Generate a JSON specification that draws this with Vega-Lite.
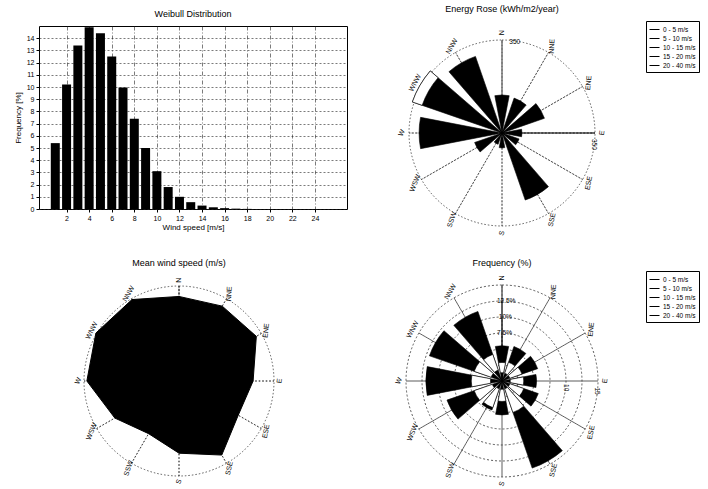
{
"$schema":"https://vega.github.io/schema/vega-lite/v6.json",
"bounds":"flush",
"padding":{"left":13,"top":4,"right":0,"bottom":0},
"config":{
 "font":"Liberation Sans",
 "view":{"stroke":null},
 "title":{"fontSize":9,"fontWeight":"normal","frame":"group","offset":7,"color":"black"},
 "axis":{"labelColor":"black","titleColor":"black","tickColor":"black","domainColor":"black","labelFontSize":7,"titleFontSize":8,"titleFontWeight":"normal"},
 "text":{"color":"black"}
},
"datasets":{
 "hist":[{"speed":1,"freq":5.4},{"speed":2,"freq":10.2},{"speed":3,"freq":13.4},{"speed":4,"freq":14.9},{"speed":5,"freq":14.4},{"speed":6,"freq":12.5},{"speed":7,"freq":9.95},{"speed":8,"freq":7.4},{"speed":9,"freq":5.0},{"speed":10,"freq":3.1},{"speed":11,"freq":1.8},{"speed":12,"freq":1.0},{"speed":13,"freq":0.56},{"speed":14,"freq":0.28},{"speed":15,"freq":0.14},{"speed":16,"freq":0.07},{"speed":17,"freq":0.03},{"speed":18,"freq":0.01}],
 "dirs":[{"dir":"N","angle":0},{"dir":"NNE","angle":30},{"dir":"ENE","angle":60},{"dir":"E","angle":90},{"dir":"ESE","angle":120},{"dir":"SSE","angle":150},{"dir":"S","angle":180},{"dir":"SSW","angle":210},{"dir":"WSW","angle":240},{"dir":"W","angle":270},{"dir":"WNW","angle":300},{"dir":"NNW","angle":330}],
 "energy":[
  {"dir":"N","angle":0,"cls":"5 - 10 m/s","r0":0,"r1":143},
  {"dir":"NNE","angle":30,"cls":"5 - 10 m/s","r0":0,"r1":139},
  {"dir":"ENE","angle":60,"cls":"5 - 10 m/s","r0":0,"r1":169},
  {"dir":"E","angle":90,"cls":"5 - 10 m/s","r0":0,"r1":75},
  {"dir":"ESE","angle":120,"cls":"5 - 10 m/s","r0":0,"r1":68},
  {"dir":"SSE","angle":150,"cls":"5 - 10 m/s","r0":0,"r1":267},
  {"dir":"S","angle":180,"cls":"5 - 10 m/s","r0":0,"r1":56},
  {"dir":"SSW","angle":210,"cls":"5 - 10 m/s","r0":0,"r1":45},
  {"dir":"WSW","angle":240,"cls":"5 - 10 m/s","r0":0,"r1":109},
  {"dir":"W","angle":270,"cls":"5 - 10 m/s","r0":0,"r1":312},
  {"dir":"WNW","angle":300,"cls":"5 - 10 m/s","r0":0,"r1":357},
  {"dir":"NNW","angle":330,"cls":"5 - 10 m/s","r0":0,"r1":305},
  {"dir":"WNW","angle":300,"cls":"15 - 20 m/s","r0":318,"r1":357}
 ],
 "mean":[{"dir":"N","angle":0,"speed":8.9},{"dir":"NNE","angle":30,"speed":9.1},{"dir":"ENE","angle":60,"speed":9.4},{"dir":"E","angle":90,"speed":7.8},{"dir":"ESE","angle":120,"speed":7.2},{"dir":"SSE","angle":150,"speed":9.0},{"dir":"S","angle":180,"speed":7.6},{"dir":"SSW","angle":210,"speed":6.4},{"dir":"WSW","angle":240,"speed":7.8},{"dir":"W","angle":270,"speed":9.7},{"dir":"WNW","angle":300,"speed":10.1},{"dir":"NNW","angle":330,"speed":9.9}],
 "freq":[
  {"dir":"N","angle":0,"cls":"10 - 15 m/s","r0":0,"r1":5.5},
  {"dir":"NNE","angle":30,"cls":"10 - 15 m/s","r0":0,"r1":5.7},
  {"dir":"ENE","angle":60,"cls":"10 - 15 m/s","r0":0,"r1":5.9},
  {"dir":"E","angle":90,"cls":"10 - 15 m/s","r0":0,"r1":5.4},
  {"dir":"ESE","angle":120,"cls":"10 - 15 m/s","r0":0,"r1":6.0},
  {"dir":"SSE","angle":150,"cls":"10 - 15 m/s","r0":0,"r1":14.4},
  {"dir":"S","angle":180,"cls":"10 - 15 m/s","r0":0,"r1":5.3},
  {"dir":"SSW","angle":210,"cls":"10 - 15 m/s","r0":0,"r1":4.8},
  {"dir":"WSW","angle":240,"cls":"10 - 15 m/s","r0":0,"r1":9.1},
  {"dir":"W","angle":270,"cls":"10 - 15 m/s","r0":0,"r1":11.9},
  {"dir":"WNW","angle":300,"cls":"10 - 15 m/s","r0":0,"r1":12.0},
  {"dir":"NNW","angle":330,"cls":"10 - 15 m/s","r0":0,"r1":11.5},
  {"dir":"N","angle":0,"cls":"0 - 5 m/s","r0":1.3,"r1":2.9},
  {"dir":"NNE","angle":30,"cls":"0 - 5 m/s","r0":1.3,"r1":3.1},
  {"dir":"ENE","angle":60,"cls":"0 - 5 m/s","r0":1.3,"r1":3.3},
  {"dir":"E","angle":90,"cls":"0 - 5 m/s","r0":1.3,"r1":3.4},
  {"dir":"ESE","angle":120,"cls":"0 - 5 m/s","r0":1.3,"r1":3.6},
  {"dir":"SSE","angle":150,"cls":"0 - 5 m/s","r0":1.3,"r1":5.2},
  {"dir":"S","angle":180,"cls":"0 - 5 m/s","r0":1.3,"r1":3.2},
  {"dir":"SSW","angle":210,"cls":"0 - 5 m/s","r0":1.3,"r1":4.4},
  {"dir":"WSW","angle":240,"cls":"0 - 5 m/s","r0":1.6,"r1":4.6},
  {"dir":"W","angle":270,"cls":"0 - 5 m/s","r0":1.8,"r1":4.8},
  {"dir":"WNW","angle":300,"cls":"0 - 5 m/s","r0":1.8,"r1":4.6},
  {"dir":"NNW","angle":330,"cls":"0 - 5 m/s","r0":1.8,"r1":4.4}
 ],
 "freqRings":[{"ring":2.5},{"ring":5},{"ring":7.5},{"ring":10},{"ring":12.5},{"ring":15}],
 "freqRingLabels":[{"ring":7.5,"label":"7.5%"},{"ring":10,"label":"10%"},{"ring":12.5,"label":"12.5%"}],
 "freqRingLabelsE":[{"ring":10,"label":"10"},{"ring":15,"label":"15"}]
},
"columns":2,
"spacing":{"row":30,"column":60},
"resolve":{"scale":{"theta":"independent","radius":"independent","x":"independent","y":"independent","fill":"independent","strokeDash":"independent","angle":"independent"}},
"concat":[
  {
   "width":308,"height":183,
   "title":{"text":"Weibull Distribution"},
   "view":{"stroke":"black","strokeWidth":1},
   "data":{"name":"hist"},
   "mark":{"type":"bar","color":"black","width":9},
   "encoding":{
    "x":{"field":"speed","type":"quantitative","scale":{"domain":[0,26.4],"nice":false,"zero":false},
     "axis":{"values":[2,4,6,8,10,12,14,16,18,20,22,24],"title":"Wind speed [m/s]","grid":true,"gridColor":"#222","gridDash":[4,2,1,2],"gridWidth":0.6,"domain":false,"tickSize":3,"labelPadding":2,"titlePadding":2}},
    "y":{"field":"freq","type":"quantitative","scale":{"domain":[0,15],"nice":false},
     "axis":{"values":[0,1,2,3,4,5,6,7,8,9,10,11,12,13,14],"title":"Frequency [%]","grid":true,"gridColor":"#222","gridDash":[2,2],"gridWidth":0.6,"domain":false,"tickSize":3,"labelPadding":2,"titlePadding":4}}
   }
  },
  {
   "width":190,"height":214,
   "title":{"text":"Energy Rose (kWh/m2/year)"},
   "view":{"stroke":null},
   "layer":[
    {"data":{"values":[{"ring":350}]},
     "mark":{"type":"arc","filled":false,"color":"#333","strokeDash":[1.5,2],"strokeWidth":0.8},
     "encoding":{"theta":{"datum":0,"type":"quantitative","scale":{"domain":[0,360],"range":[0,6.283185]}},"theta2":{"datum":360},
      "radius":{"field":"ring","type":"quantitative","stack":null,"scale":{"type":"linear","domain":[0,350],"range":[0,93],"nice":false}}}},
    {"data":{"name":"dirs"},
     "mark":{"type":"arc","filled":false,"color":"#333","strokeDash":[1.5,2],"strokeWidth":0.8},
     "encoding":{"theta":{"field":"angle","type":"quantitative","stack":null,"scale":{"domain":[0,360],"range":[0,6.283185]}},"theta2":{"field":"angle"},
      "radius":{"datum":350,"type":"quantitative","scale":{"type":"linear","domain":[0,350],"range":[0,93],"nice":false}}}},
    {"data":{"name":"energy"},
     "mark":{"type":"arc","thetaOffset":-0.19,"theta2Offset":0.19,"stroke":"black","strokeWidth":0.6},
     "encoding":{"theta":{"field":"angle","type":"quantitative","stack":null,"scale":{"domain":[0,360],"range":[0,6.283185]}},"theta2":{"field":"angle"},
      "radius":{"field":"r1","type":"quantitative","stack":null,"scale":{"type":"linear","domain":[0,350],"range":[0,93],"nice":false}},
      "radius2":{"field":"r0"},
      "fill":{"field":"cls","type":"nominal","scale":{"domain":["0 - 5 m/s","5 - 10 m/s","10 - 15 m/s","15 - 20 m/s","20 - 40 m/s"],"range":["white","black","black","white","black"]},
       "legend":{"orient":"none","legendX":239,"legendY":-5,"title":null,"strokeColor":"black","fillColor":"white","padding":3,"symbolType":"stroke","symbolSize":100,"symbolStrokeColor":"black","symbolStrokeWidth":1,"labelFontSize":6.5,"labelColor":"black","rowPadding":0,"labelOffset":3}},
      "strokeDash":{"field":"cls","type":"nominal","scale":{"domain":["0 - 5 m/s","5 - 10 m/s","10 - 15 m/s","15 - 20 m/s","20 - 40 m/s"],"range":[[1,3],[1,0],[3,2],[1,2],[1,0]]},
       "legend":{"orient":"none","legendX":239,"legendY":-5,"title":null,"strokeColor":"black","fillColor":"white","padding":3,"symbolType":"stroke","symbolSize":100,"symbolStrokeColor":"black","symbolStrokeWidth":1,"labelFontSize":6.5,"labelColor":"black","rowPadding":0,"labelOffset":3}}}},
    {"data":{"values":[{"ring":350}]},
     "mark":{"type":"arc","filled":false,"color":"black","strokeWidth":1.2},
     "encoding":{"theta":{"datum":90,"type":"quantitative","scale":{"domain":[0,360],"range":[0,6.283185]}},"theta2":{"datum":90},
      "radius":{"field":"ring","type":"quantitative","stack":null,"scale":{"type":"linear","domain":[0,350],"range":[0,93],"nice":false}}}},
    {"data":{"name":"dirs"},
     "mark":{"type":"text","fontSize":7,"align":"center","baseline":"middle","color":"black"},
     "encoding":{"theta":{"field":"angle","type":"quantitative","stack":null,"scale":{"domain":[0,360],"range":[0,6.283185]}},
      "radius":{"datum":377,"type":"quantitative","scale":{"type":"linear","domain":[0,350],"range":[0,93],"nice":false}},
      "angle":{"field":"dir","type":"nominal","scale":{"domain":["N","NNE","ENE","E","ESE","SSE","S","SSW","WSW","W","WNW","NNW"],"range":[270,300,330,0,30,60,90,300,330,0,30,60]},"legend":null},
      "text":{"field":"dir"}}},
    {"data":{"values":[{"label":"350"}]},
     "mark":{"type":"text","fontSize":6.5,"align":"center","baseline":"middle","color":"black"},
     "encoding":{"theta":{"datum":8,"type":"quantitative","scale":{"domain":[0,360],"range":[0,6.283185]}},
      "radius":{"datum":345,"type":"quantitative","scale":{"type":"linear","domain":[0,350],"range":[0,93],"nice":false}},
      "text":{"field":"label"}}},
    {"data":{"values":[{"label":"350"}]},
     "mark":{"type":"text","fontSize":6.5,"align":"center","baseline":"middle","angle":90,"color":"black"},
     "encoding":{"theta":{"datum":97,"type":"quantitative","scale":{"domain":[0,360],"range":[0,6.283185]}},
      "radius":{"datum":350,"type":"quantitative","scale":{"type":"linear","domain":[0,350],"range":[0,93],"nice":false}},
      "text":{"field":"label"}}}
   ]
  },
  {
   "width":280,"height":222,
   "title":{"text":"Mean wind speed (m/s)","offset":2},
   "view":{"stroke":null},
   "layer":[
    {"data":{"values":[{"ring":10}]},
     "mark":{"type":"arc","filled":false,"color":"#333","strokeDash":[1.5,2],"strokeWidth":0.8},
     "encoding":{"theta":{"datum":0,"type":"quantitative","scale":{"domain":[0,360],"range":[0,6.283185]}},"theta2":{"datum":360},
      "radius":{"field":"ring","type":"quantitative","stack":null,"scale":{"type":"linear","domain":[0,10],"range":[0,95],"nice":false}}}},
    {"data":{"name":"dirs"},
     "mark":{"type":"arc","filled":false,"color":"#333","strokeDash":[1.5,2],"strokeWidth":0.8},
     "encoding":{"theta":{"field":"angle","type":"quantitative","stack":null,"scale":{"domain":[0,360],"range":[0,6.283185]}},"theta2":{"field":"angle"},
      "radius":{"datum":10,"type":"quantitative","scale":{"type":"linear","domain":[0,10],"range":[0,95],"nice":false}}}},
    {"data":{"name":"mean"},
     "transform":[{"calculate":"datum.speed*sin(datum.angle*PI/180)","as":"px"},{"calculate":"datum.speed*cos(datum.angle*PI/180)","as":"py"}],
     "mark":{"type":"line","interpolate":"linear-closed","fill":"black","stroke":"black","strokeWidth":1},
     "encoding":{
      "x":{"field":"px","type":"quantitative","scale":{"domain":[-14.737,14.737],"nice":false,"zero":false},"axis":null},
      "y":{"field":"py","type":"quantitative","scale":{"domain":[-11.684,11.684],"nice":false,"zero":false},"axis":null},
      "order":{"field":"angle","type":"quantitative"}}},
    {"data":{"name":"dirs"},
     "mark":{"type":"text","fontSize":7,"align":"center","baseline":"middle","color":"black"},
     "encoding":{"theta":{"field":"angle","type":"quantitative","stack":null,"scale":{"domain":[0,360],"range":[0,6.283185]}},
      "radius":{"datum":10.6,"type":"quantitative","scale":{"type":"linear","domain":[0,10],"range":[0,95],"nice":false}},
      "angle":{"field":"dir","type":"nominal","scale":{"domain":["N","NNE","ENE","E","ESE","SSE","S","SSW","WSW","W","WNW","NNW"],"range":[270,300,330,0,30,60,90,300,330,0,30,60]},"legend":null},
      "text":{"field":"dir"}}}
   ]
  },
  {
   "width":190,"height":222,
   "title":{"text":"Frequency (%)","offset":2},
   "view":{"stroke":null},
   "layer":[
    {"data":{"name":"freqRings"},
     "mark":{"type":"arc","filled":false,"color":"#333","strokeDash":[2,2],"strokeWidth":0.8},
     "encoding":{"theta":{"datum":0,"type":"quantitative","scale":{"domain":[0,360],"range":[0,6.283185]}},"theta2":{"datum":360},
      "radius":{"field":"ring","type":"quantitative","stack":null,"scale":{"type":"linear","domain":[0,15],"range":[0,96],"nice":false}}}},
    {"data":{"name":"dirs"},
     "mark":{"type":"arc","filled":false,"color":"#333","strokeDash":[2,2],"strokeWidth":0.8},
     "encoding":{"theta":{"field":"angle","type":"quantitative","stack":null,"scale":{"domain":[0,360],"range":[0,6.283185]}},"theta2":{"field":"angle"},
      "radius":{"datum":15,"type":"quantitative","scale":{"type":"linear","domain":[0,15],"range":[0,96],"nice":false}}}},
    {"data":{"name":"freq"},
     "mark":{"type":"arc","thetaOffset":-0.19,"theta2Offset":0.19,"stroke":"black","strokeWidth":0.6},
     "encoding":{"theta":{"field":"angle","type":"quantitative","stack":null,"scale":{"domain":[0,360],"range":[0,6.283185]}},"theta2":{"field":"angle"},
      "radius":{"field":"r1","type":"quantitative","stack":null,"scale":{"type":"linear","domain":[0,15],"range":[0,96],"nice":false}},
      "radius2":{"field":"r0"},
      "fill":{"field":"cls","type":"nominal","scale":{"domain":["0 - 5 m/s","5 - 10 m/s","10 - 15 m/s","15 - 20 m/s","20 - 40 m/s"],"range":["white","black","black","white","black"]},
       "legend":{"orient":"none","legendX":239,"legendY":1,"title":null,"strokeColor":"black","fillColor":"white","padding":3,"symbolType":"stroke","symbolSize":100,"symbolStrokeColor":"black","symbolStrokeWidth":1,"labelFontSize":6.5,"labelColor":"black","rowPadding":0,"labelOffset":3}},
      "strokeDash":{"field":"cls","type":"nominal","scale":{"domain":["0 - 5 m/s","5 - 10 m/s","10 - 15 m/s","15 - 20 m/s","20 - 40 m/s"],"range":[[1,2],[1,0],[3,2],[1,3],[1,0]]},
       "legend":{"orient":"none","legendX":239,"legendY":1,"title":null,"strokeColor":"black","fillColor":"white","padding":3,"symbolType":"stroke","symbolSize":100,"symbolStrokeColor":"black","symbolStrokeWidth":1,"labelFontSize":6.5,"labelColor":"black","rowPadding":0,"labelOffset":3}}}},
    {"data":{"name":"dirs"},
     "mark":{"type":"text","fontSize":7,"align":"center","baseline":"middle","color":"black"},
     "encoding":{"theta":{"field":"angle","type":"quantitative","stack":null,"scale":{"domain":[0,360],"range":[0,6.283185]}},
      "radius":{"datum":16.1,"type":"quantitative","scale":{"type":"linear","domain":[0,15],"range":[0,96],"nice":false}},
      "angle":{"field":"dir","type":"nominal","scale":{"domain":["N","NNE","ENE","E","ESE","SSE","S","SSW","WSW","W","WNW","NNW"],"range":[270,300,330,0,30,60,90,300,330,0,30,60]},"legend":null},
      "text":{"field":"dir"}}},
    {"data":{"name":"freqRingLabels"},
     "mark":{"type":"text","fontSize":6.5,"align":"center","baseline":"middle","color":"black"},
     "encoding":{"theta":{"datum":3,"type":"quantitative","scale":{"domain":[0,360],"range":[0,6.283185]}},
      "radius":{"field":"ring","type":"quantitative","stack":null,"scale":{"type":"linear","domain":[0,15],"range":[0,96],"nice":false}},
      "text":{"field":"label"}}},
    {"data":{"name":"freqRingLabelsE"},
     "mark":{"type":"text","fontSize":6.5,"align":"center","baseline":"middle","angle":90,"color":"black"},
     "encoding":{"theta":{"datum":96,"type":"quantitative","scale":{"domain":[0,360],"range":[0,6.283185]}},
      "radius":{"field":"ring","type":"quantitative","stack":null,"scale":{"type":"linear","domain":[0,15],"range":[0,96],"nice":false}},
      "text":{"field":"label"}}}
   ]
  }
]
}
